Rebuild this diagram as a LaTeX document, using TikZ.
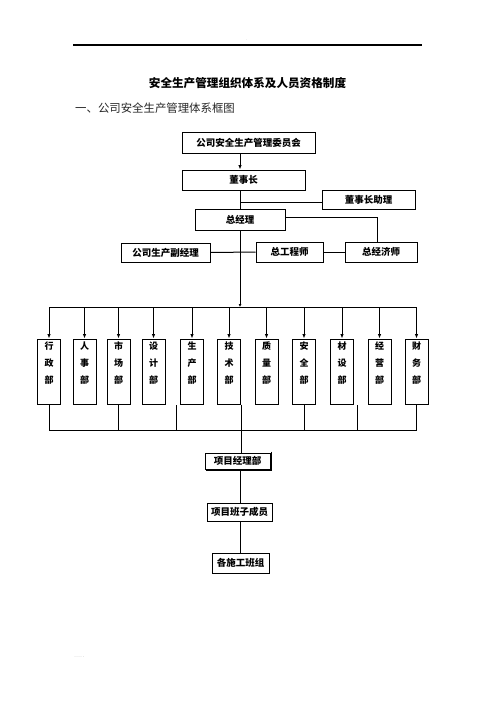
\documentclass[tikz,border=0pt]{standalone}
\usepackage{fontspec}
\newfontfamily\cjk{Noto Sans CJK SC}
\usetikzlibrary{arrows.meta}
\begin{document}
\begin{tikzpicture}[x=1pt,y=-1pt,
  ln/.style={line width=1pt},
  arr/.style={line width=1pt,-{Latex[length=4.5pt,width=3.5pt]}},
  box/.style={draw,line width=1pt,inner sep=0pt,font=\cjk\bfseries\fontsize{9.5}{11}\selectfont},
  dept/.style={draw,line width=1pt,inner sep=0pt,minimum width=23pt,minimum height=65pt},
  dtext/.style={anchor=north,inner sep=0pt,align=center,font=\cjk\bfseries\fontsize{9}{17}\selectfont}]
\useasboundingbox (0,0) rectangle (496,702);
% header
\node[inner sep=0pt,font=\fontsize{4}{4}\selectfont,text=black!50] (hdot) at (247,40) {.};
\draw[line width=1.2pt] (73,45) -- (422,45);
\node[inner sep=0pt,font=\cjk\bfseries\fontsize{11.6}{13}\selectfont] (title) at (247.5,83) {安全生产管理组织体系及人员资格制度};
\node[anchor=west,inner sep=0pt,font=\cjk\fontsize{11.4}{13}\selectfont,text=black!85] (head) at (75,108) {一、公司安全生产管理体系框图};
\node[anchor=west,inner sep=0pt,font=\fontsize{5}{5}\selectfont,text=black!50] (foot) at (74,657) {.....};
% top boxes
\node[box,minimum width=133pt,minimum height=21pt] (wyh) at (248.5,142.5) {公司安全生产管理委员会};
\node[box,minimum width=123pt,minimum height=20pt] (dsz) at (243.5,180) {董事长};
\node[box,minimum width=93pt,minimum height=19pt] (zl) at (368.5,199.5) {董事长助理};
\node[box,minimum width=90pt,minimum height=21pt] (zjl) at (240,219.5) {总经理};
\node[box,minimum width=89pt,minimum height=19pt] (fjl) at (165.5,252.5) {公司生产副经理};
\node[box,minimum width=67pt,minimum height=20pt] (zgcs) at (289.5,252) {总工程师};
\node[box,minimum width=72pt,minimum height=20pt] (zjjs) at (381,252) {总经济师};
\coordinate (topbus) at (240,307);
\coordinate (botbus) at (240,430);
% connectors top
\draw[arr] (wyh.south -| 240,0) -- (dsz.north -| 240,0);
\draw[ln] (dsz.south -| 240,0) -- (zjl.north -| 240,0);
\draw[ln] (240,202) -- (zl.west |- 0,202);
\draw[ln] (zjl.east |- 0,217) -| (zjjs.north -| 377,0);
\draw[ln] (fjl.east) -- (zgcs.west);
\draw[ln] (zgcs.east) -- (zjjs.west);
\draw[ln,-{Latex[length=3pt,width=3pt]}] (zjl.south -| 240,0) -- (topbus);
% departments
\foreach \n/\x/\a/\b/\c in {hz/49/行/政/部, rs/84.5/人/事/部, sc/118.5/市/场/部, sj/153.5/设/计/部, scb/192/生/产/部, js/229/技/术/部, zl2/266.5/质/量/部, aq/304/安/全/部, cs/342/材/设/部, jy/379.5/经/营/部, cw/416.5/财/务/部}{
  \node[dept] (\n) at (\x,371.5) {};
  \node[dtext] (\n t) at ([yshift=-3pt]\n.north) {\a\\\b\\\c};
  \draw[arr] (\n.north |- topbus) -- (\n.north);
}
\draw[ln] (hz.north |- topbus) -- (cw.north |- topbus);
% bottom bus
\draw[ln] (hz.south |- botbus) -- (cw.south |- botbus);
\draw[ln] (hz.south) -- (hz.south |- botbus);
\draw[ln] (sc.south) -- (sc.south |- botbus);
\draw[ln] (aq.south) -- (aq.south |- botbus);
\draw[ln] (cw.south) -- (cw.south |- botbus);
\coordinate (f1) at (176,405);
\coordinate (f2) at (357,405);
\draw[ln] (f1) -- (f1 |- botbus);
\draw[ln] (f2) -- (f2 |- botbus);
% lower boxes
\node[box,minimum width=65pt,minimum height=16pt] (xmb) at (237.5,461) {项目经理部};
\draw[line width=1.3pt] ([xshift=0.9pt,yshift=1pt]xmb.north east) -- ([xshift=0.9pt,yshift=-0.9pt]xmb.south east) -- ([xshift=1pt,yshift=-0.9pt]xmb.south west);
\node[box,minimum width=65pt,minimum height=18pt] (bz) at (239.5,512) {项目班子成员};
\node[box,minimum width=57pt,minimum height=20pt] (bzu) at (240.5,563) {各施工班组};
\draw[ln] (js.south east) -- (xmb.north -| js.south east);
\draw[ln] (xmb.south -| 240,0) -- (bz.north -| 240,0);
\draw[ln] (bz.south -| 240,0) -- (bzu.north -| 240,0);
\end{tikzpicture}
\end{document}
